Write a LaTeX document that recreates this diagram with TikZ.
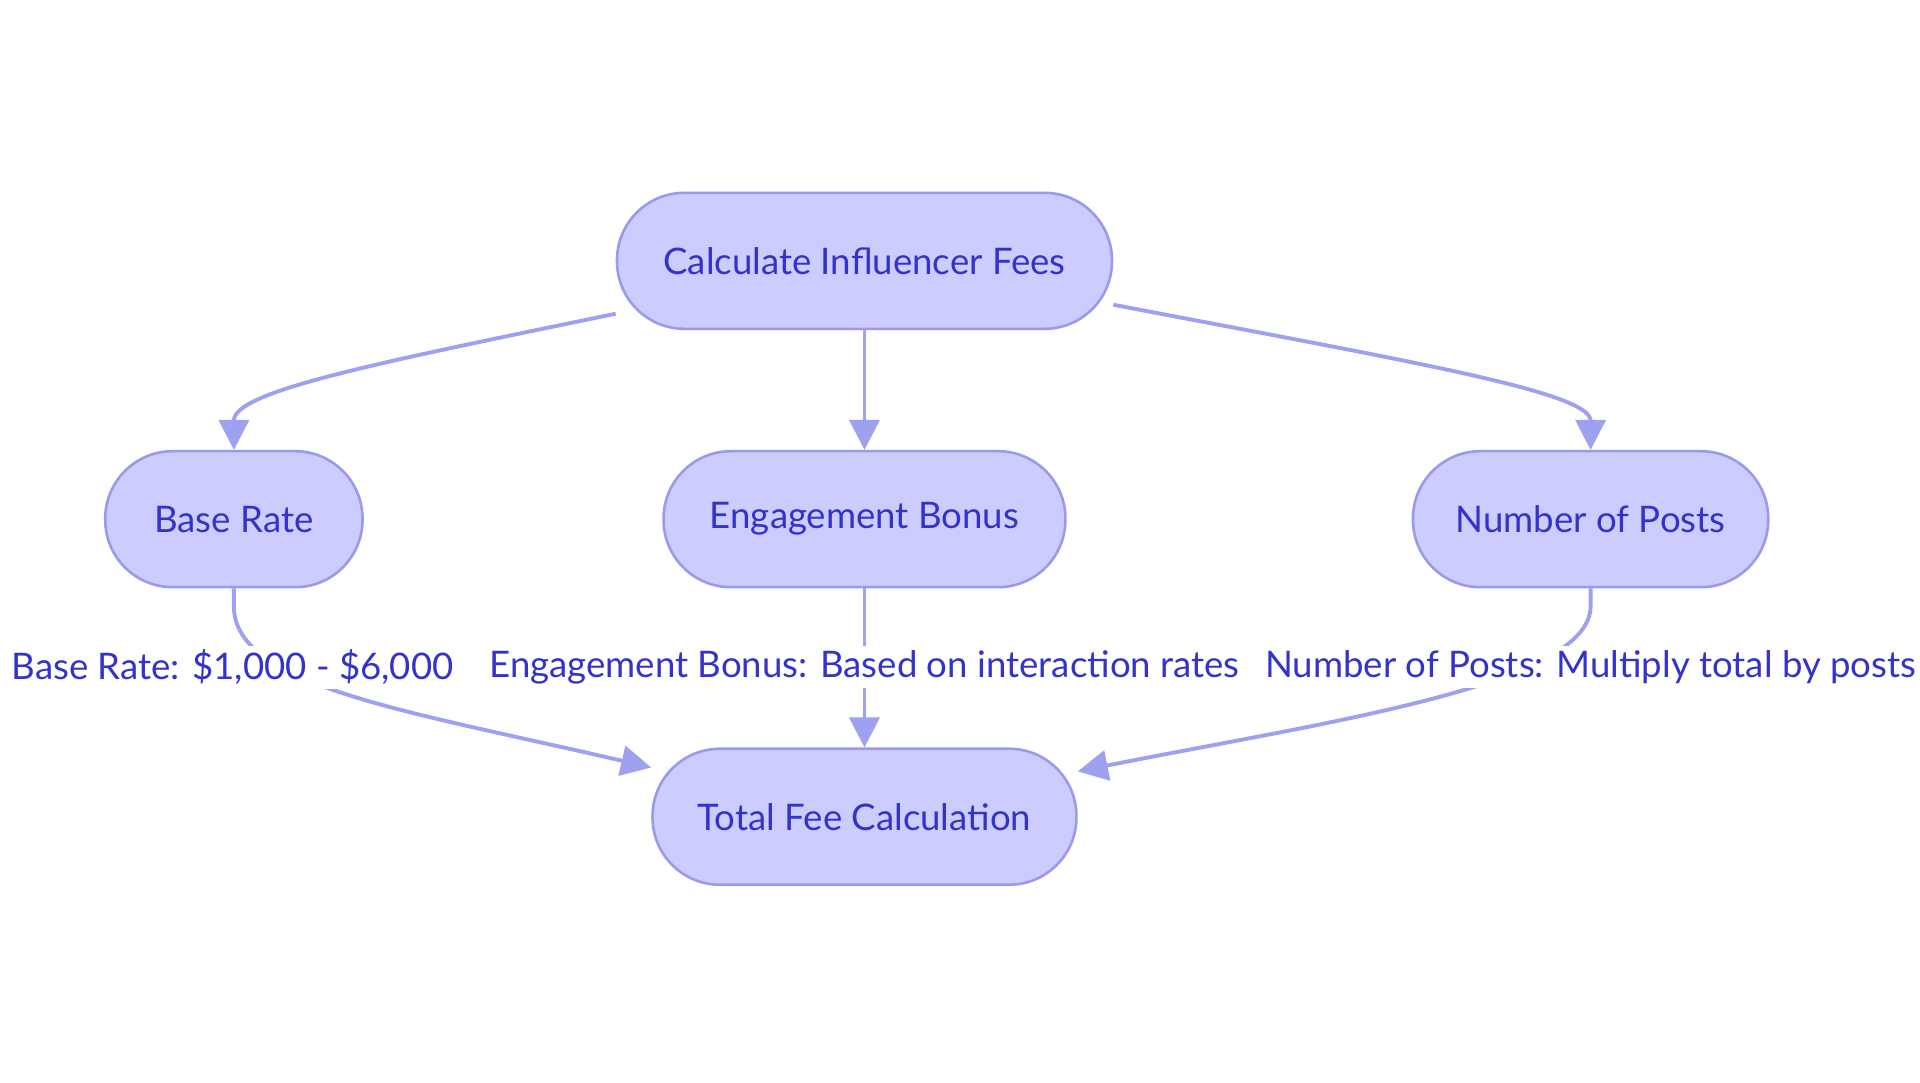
\documentclass[tikz,border=0pt]{standalone}
\usepackage{fontspec}
\setmainfont{Lato}
\usetikzlibrary{arrows.meta}
\definecolor{nfill}{HTML}{CCCCFF}
\definecolor{nline}{HTML}{9999EE}
\definecolor{ntext}{HTML}{3333CC}
\definecolor{eline}{HTML}{9EA0F0}
\begin{document}
\begin{tikzpicture}[x=0.01cm,y=-0.01cm,
  box/.style={draw=nline,fill=nfill,line width=0.6pt,rounded corners=0.55cm,minimum height=1.11cm,text=ntext,font=\fontsize{8.5}{10}\selectfont,inner sep=0pt},
  edge/.style={draw=eline,line width=0.9pt,-{Triangle[length=7pt,width=7pt]}},
  lab/.style={fill=white,text=ntext,font=\fontsize{8.5}{10}\selectfont,inner sep=1pt}]
\useasboundingbox[fill=white] (0,0) rectangle (1568,884);
\node[box,minimum width=4.04cm] (c) at (706,213) {Calculate Influencer Fees};
\node[box,minimum width=2.10cm] (b) at (191,424) {Base Rate};
\node[box,minimum width=3.28cm] (e) at (706,424) {Engagement Bonus};
\node[box,minimum width=2.90cm] (p) at (1299,424) {Number of Posts};
\node[box,minimum width=3.46cm] (t) at (706,667) {Total Fee Calculation};
\draw[edge] (c.192) .. controls (300,298) and (191,320) .. (b.north);
\draw[edge] (c) -- (e);
\draw[edge] (c.-10) .. controls (1150,295) and (1299,320) .. (p.north);
\draw[edge] (b.south) -- (191,495) .. controls (191,560) and (330,580) .. (t.167);
\draw[edge] (e) -- (t);
\draw[edge] (p.south) -- (1299,495) .. controls (1299,560) and (1080,590) .. (t.12);
\node[lab] (lb) at (190,545) {Base Rate: \$1,000 - \$6,000};
\node[lab] (le) at (706,545) {Engagement Bonus: Based on interaction rates};
\node[lab] (lp) at (1299,545) {Number of Posts: Multiply total by posts};
\end{tikzpicture}
\end{document}
